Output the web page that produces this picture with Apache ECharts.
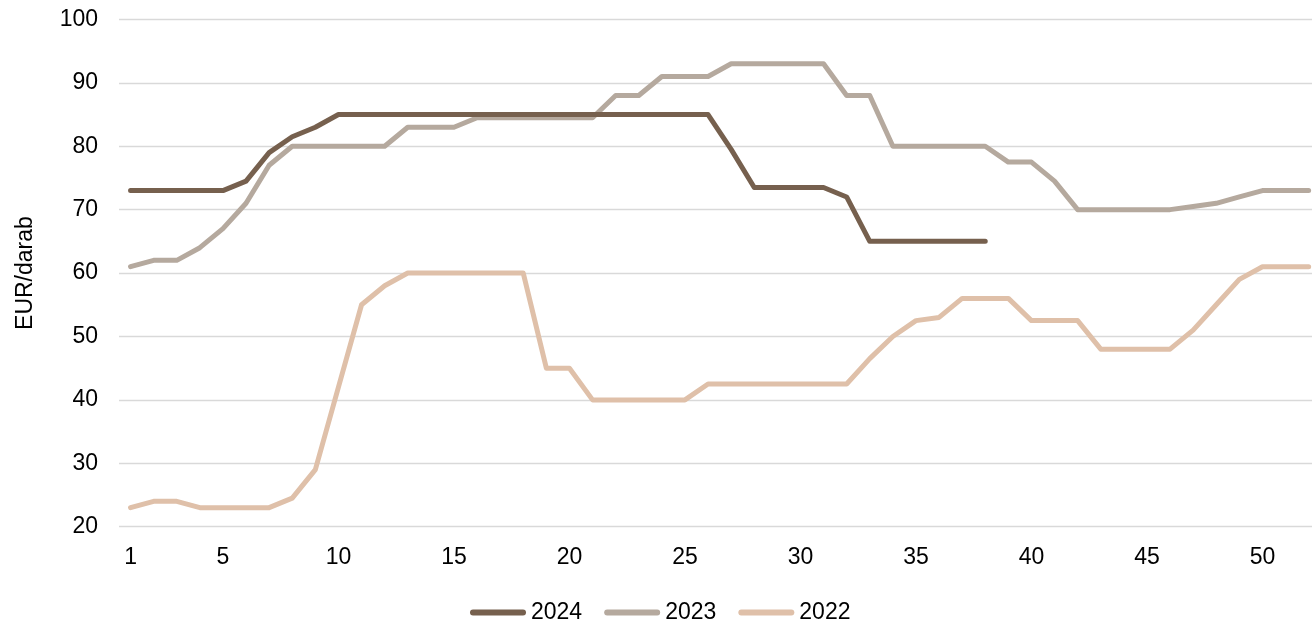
<!DOCTYPE html>
<html>
<head>
<meta charset="utf-8">
<script src="https://cdn.jsdelivr.net/npm/echarts@6/dist/echarts.min.js"></script>
<style>
  html, body { margin: 0; padding: 0; background: #fff; }
  #chart { width: 1312px; height: 620px; }
</style>
</head>
<body>
<div id="chart"></div>
<script>
const weeks = ['1','2','3','4','5','6','7','8','9','10','11','12','13','14','15','16','17','18','19','20','21','22','23','24','25','26','27','28','29','30','31','32','33','34','35','36','37','38','39','40','41','42','43','44','45','46','47','48','49','50','51','52'];

const s2024 = [73,73,73,73,73,74.5,79,81.5,83,
  85,85,85,85,85,85,85,85,85,85,85,85,85,85,85,85,85,
  79.5,73.5,73.5,73.5,73.5,72,65,65,65,65,65,65];

const s2023 = [61,62,62,64,67,71,77,80,80,80,80,80,83,83,83,
  84.5,84.5,84.5,84.5,84.5,84.5,88,88,91,91,91,93,93,93,93,93,
  88,88,80,80,80,80,80,77.5,77.5,74.5,70,70,70,70,70,70.5,71,72,73,73,73];

const s2022 = [23,24,24,23,23,23,23,24.5,29,42,55,58,60,60,60,60,60,60,
  45,45,40,40,40,40,40,42.5,42.5,42.5,42.5,42.5,42.5,42.5,46.5,50,52.5,53,
  56,56,56,52.5,52.5,52.5,48,48,48,48,51,55,59,61,61,61];

const yTicks = { min: 20, max: 100, interval: 10 };
const seriesNames = ['2024', '2023', '2022'];
const colors = { '2024': '#76604E', '2023': '#B5A99E', '2022': '#DFC0A9' };
const dataByName = { '2024': s2024, '2023': s2023, '2022': s2022 };

const font = 'Liberation Sans, Arial, sans-serif';
const chart = echarts.init(document.getElementById('chart'));

const drawOrder = ['2022', '2023', '2024'];
chart.setOption({
  animation: false,
  grid: [
    { left: 119, right: 0, top: 19.4, height: 507.3 },
    { left: 130.55, width: 1178.1, top: 19.4, height: 507.3 }
  ],
  legend: {
    data: seriesNames,
    left: 470,
    top: 601,
    padding: 0,
    itemGap: 22,
    itemWidth: 56,
    itemHeight: 6,
    icon: 'path://M3,0 L53,0 A3,3 0 0 1 53,6 L3,6 A3,3 0 0 1 3,0 Z',
    textStyle: { fontFamily: font, fontSize: 23, color: '#000' }
  },
  xAxis: [
    { type: 'category', gridIndex: 0, data: weeks, show: false },
    {
      type: 'category',
      gridIndex: 1,
      data: weeks,
      boundaryGap: false,
      axisLine: { show: false },
      axisTick: { show: false },
      axisLabel: {
        fontFamily: font, fontSize: 23, color: '#000', margin: 19,
        interval: function (idx, val) { return val === '1' || (+val) % 5 === 0; }
      },
      splitLine: { show: false }
    }
  ],
  yAxis: [
    {
      type: 'value',
      gridIndex: 0,
      min: yTicks.min, max: yTicks.max, interval: yTicks.interval,
      name: 'EUR/darab',
      nameLocation: 'middle',
      nameGap: 82,
      nameRotate: 90,
      nameTextStyle: { fontFamily: font, fontSize: 23, color: '#000' },
      axisLine: { show: false },
      axisTick: { show: false },
      axisLabel: { fontFamily: font, fontSize: 23, color: '#000', margin: 21 },
      splitLine: { lineStyle: { color: '#d9d9d9', width: 1.3 } }
    },
    {
      type: 'value',
      gridIndex: 1,
      min: yTicks.min, max: yTicks.max, interval: yTicks.interval,
      show: false,
      splitLine: { show: false }
    }
  ],
  series: drawOrder.map(n => ({
    name: n,
    type: 'line',
    xAxisIndex: 1,
    yAxisIndex: 1,
    data: dataByName[n],
    showSymbol: false,
    symbol: 'none',
    itemStyle: { color: colors[n] },
    lineStyle: { color: colors[n], width: 5, cap: 'round', join: 'round' }
  }))
});
</script>
</body>
</html>
